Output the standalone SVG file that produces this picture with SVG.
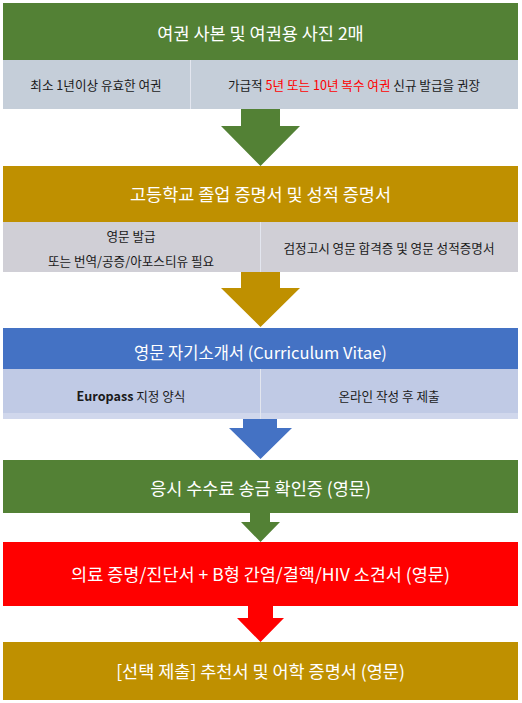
<svg xmlns="http://www.w3.org/2000/svg" width="522" height="703" viewBox="0 0 522 703">
<style>
text{font-family:"Noto Sans CJK KR","Noto Sans",sans-serif;text-anchor:middle;dominant-baseline:central}
.t{font-size:17.5px;fill:#fff}
.s{font-size:12.6px;fill:#1a1a1a}
.red{fill:#ff0000}
.div{stroke:#e3e6ef;stroke-width:1}
</style>
<rect width="522" height="703" fill="#fff"/>
<g id="connectors">
<polygon points="241,109 280,109 280,126 300,126 260.5,166 221,126 241,126" fill="#538135"/>
<polygon points="241,272 280,272 280,288 300,288 260.5,327 221,288 241,288" fill="#bf9000"/>
<polygon points="243,419 277,419 277,428 292,428 260.5,459 229,428 243,428" fill="#4472c4"/>
<polygon points="250,513 270,513 270,522 280,522 260.5,542 241,522 250,522" fill="#538135"/>
<polygon points="248,606 273,606 273,618 284,618 260.5,642 237,618 248,618" fill="#ff0000"/>
</g>
<g id="node1">
<rect x="3" y="3" width="515" height="57" fill="#538135"/>
<text class="t" x="260.5" y="32">여권 사본 및 여권용 사진 2매</text>
<rect x="3" y="60" width="515" height="49" fill="#c5ced9"/>
<line class="div" x1="190.5" y1="60" x2="190.5" y2="109"/>
<text class="s" x="96" y="84">최소 1년이상 유효한 여권</text>
<text class="s" x="354" y="84">가급적 <tspan class="red">5년 또는 10년 복수 여권</tspan> 신규 발급을 권장</text>
</g>
<g id="node2">
<rect x="3" y="166" width="515" height="56" fill="#bf9000"/>
<text class="t" x="260.5" y="193">고등학교 졸업 증명서 및 성적 증명서</text>
<rect x="3" y="222" width="515" height="50" fill="#d0cfd6"/>
<line class="div" x1="260.5" y1="222" x2="260.5" y2="272"/>
<text class="s" x="131" y="235">영문 발급</text>
<text class="s" x="131" y="260">또는 번역/공증/아포스티유 필요</text>
<text class="s" x="389" y="247">검정고시 영문 합격증 및 영문 성적증명서</text>
</g>
<g id="node3">
<rect x="3" y="328" width="515" height="41" fill="#4472c4"/>
<text class="t" x="260.5" y="352" style="font-size:16.5px">영문 자기소개서 (Curriculum Vitae)</text>
<rect x="3" y="369" width="515" height="50" fill="#d0d7ec"/>
<rect x="3" y="369" width="515" height="44" fill="#c0cae5"/>
<line class="div" x1="260.5" y1="369" x2="260.5" y2="419"/>
<text class="s" x="131" y="395"><tspan font-weight="bold">Europass</tspan> 지정 양식</text>
<text class="s" x="389" y="395">온라인 작성 후 제출</text>
</g>
<g id="node4">
<rect x="3" y="460" width="515" height="53" fill="#538135"/>
<text class="t" x="260.5" y="487">응시 수수료 송금 확인증 (영문)</text>
</g>
<g id="node5">
<rect x="3" y="542" width="515" height="64" fill="#ff0000"/>
<text class="t" x="260.5" y="573">의료 증명/진단서 + B형 간염/결핵/HIV 소견서 (영문)</text>
</g>
<g id="node6">
<rect x="3" y="642" width="515" height="58" fill="#bf9000"/>
<text class="t" x="260.5" y="670">[선택 제출] 추천서 및 어학 증명서 (영문)</text>
</g>
</svg>
